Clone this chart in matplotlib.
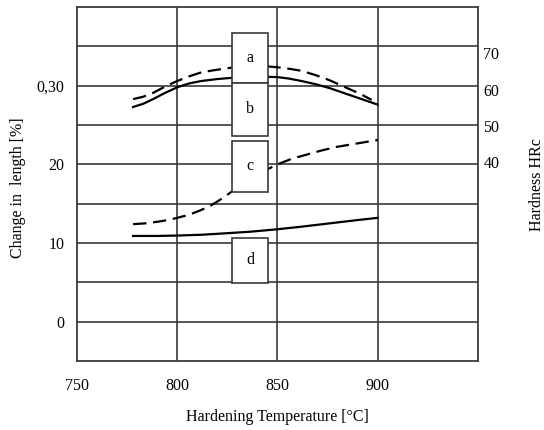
import matplotlib
matplotlib.use("Agg")
import matplotlib.pyplot as plt
from matplotlib.patches import Rectangle

plt.rcParams['font.family'] = ['Liberation Serif', 'DejaVu Serif']

# temperatures [°C] and values (left-axis units)
temp_a = [778, 783, 788, 794, 800, 806, 812, 819, 827, 835, 843, 850, 856,
          862, 869, 876, 883, 891, 897]
val_a = [28.3, 28.6, 29.1, 29.9, 30.6, 31.2, 31.7, 32.0, 32.3, 32.45, 32.5,
         32.35, 32.15, 31.9, 31.35, 30.7, 29.9, 29.0, 28.2]

temp_b = [778, 783, 788, 794, 800, 806, 812, 820, 827, 835, 843, 850, 856,
          862, 869, 876, 884, 892, 900]
val_b = [27.3, 27.7, 28.3, 29.1, 29.8, 30.3, 30.6, 30.85, 31.0, 31.1, 31.15,
         31.1, 30.9, 30.6, 30.2, 29.7, 29.0, 28.3, 27.6]

temp_c = [778, 784, 790, 795, 800, 806, 812, 817, 822, 827, 832, 837, 842,
          846, 850, 857, 864, 871, 879, 886, 893, 900]
val_c = [12.4, 12.5, 12.7, 12.9, 13.2, 13.6, 14.2, 14.8, 15.6, 16.5, 17.4,
         18.3, 19.0, 19.5, 20.0, 20.7, 21.2, 21.7, 22.2, 22.5, 22.8, 23.1]

temp_d = [778, 790, 800, 812, 825, 837, 850, 861, 871, 881, 891, 900]
val_d = [10.9, 10.9, 10.95, 11.05, 11.25, 11.45, 11.75, 12.05, 12.35, 12.65,
         12.95, 13.2]

x_ticks = [750, 800, 850, 900]
left_ticks = [0, 10, 20, 30]
left_labels = ["0", "10", "20", "0,30"]
right_ticks = [40, 50, 60, 70]

# label boxes: name, x0, x1, y0, y1
boxes = [("a", 827.3, 845.3, 30.4, 36.7),
         ("b", 827.3, 845.3, 23.6, 30.4),
         ("c", 827.3, 845.3, 16.5, 23.0),
         ("d", 827.3, 845.3, 4.9, 10.7)]

fig = plt.figure(figsize=(5.44, 4.30), dpi=100)
ax = fig.add_axes([0.1415, 0.1605, 0.737, 0.823])

grid_col = "#3a3a3a"
ax.set_xlim(750, 950)
ax.set_ylim(-5, 40)
for x in [800, 850, 900]:
    ax.axvline(x, color=grid_col, lw=1.2, zorder=1)
for y in range(0, 40, 5):
    ax.axhline(y, color=grid_col, lw=1.2, zorder=1)
for s in ax.spines.values():
    s.set_color(grid_col)
    s.set_linewidth(1.3)

dash = (0, (6, 3))
ax.plot(temp_a, val_a, color="black", lw=1.6, ls=dash, zorder=2)
ax.plot(temp_b, val_b, color="black", lw=1.6, zorder=2)
ax.plot(temp_c, val_c, color="black", lw=1.6, ls=dash, zorder=2)
ax.plot(temp_d, val_d, color="black", lw=1.6, zorder=2)

for name, x0, x1, y0, y1 in boxes:
    ax.add_patch(Rectangle((x0, y0), x1 - x0, y1 - y0, facecolor="white",
                           edgecolor=grid_col, lw=1.2, zorder=3))
    ax.text((x0 + x1) / 2, (y0 + y1) / 2, name, ha="center", va="center",
            fontsize=11.5, zorder=4)

ax.set_xticks(x_ticks)
ax.set_yticks(left_ticks)
ax.set_yticklabels(left_labels)
ax.tick_params(length=0, labelsize=11.5)
ax.tick_params(axis="x", pad=12)
ax.tick_params(axis="y", pad=9)
ax.set_xlabel("Hardening Temperature [°C]", fontsize=11.5, labelpad=11)

ax2 = ax.twinx()
ax2.set_ylim(-15, 82.8)
ax2.set_yticks(right_ticks)
ax2.tick_params(length=0, labelsize=11.5, pad=4)
for s in ax2.spines.values():
    s.set_visible(False)

fig.text(18 / 544, 1 - 188 / 430, "Change in  length [%]", rotation=90,
         ha="center", va="center", fontsize=11.5)
fig.text(537 / 544, 1 - 185 / 430, "Hardness HRc", rotation=90,
         ha="center", va="center", fontsize=11.5)

fig.savefig("out.png", dpi=100)
